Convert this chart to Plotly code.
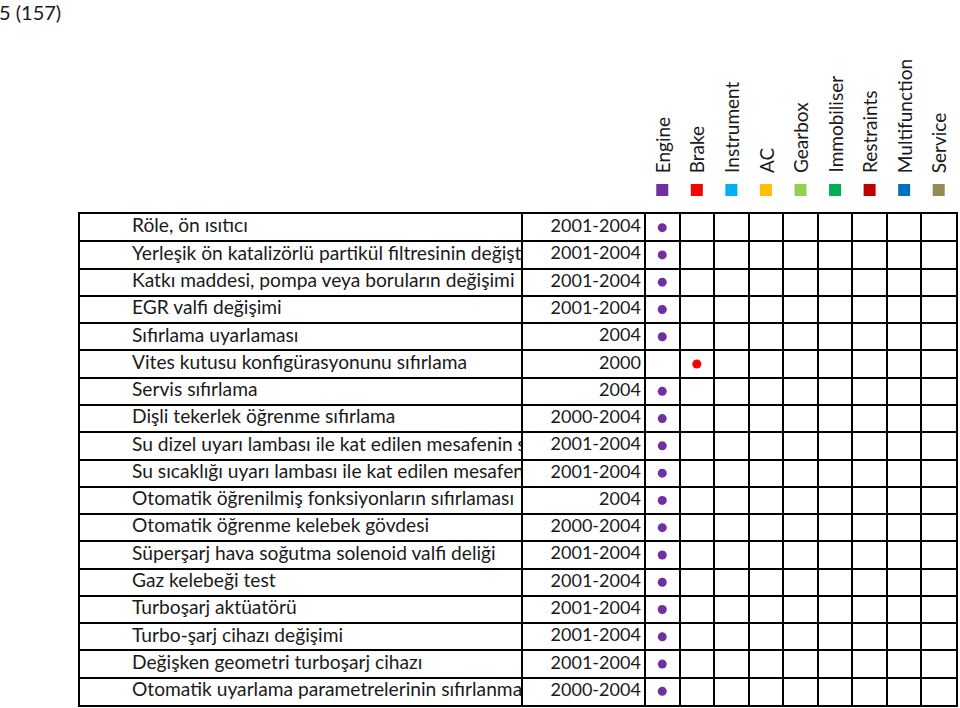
import plotly.graph_objects as go

# ---- data ----
categories = ["Engine", "Brake", "Instrument", "AC", "Gearbox",
              "Immobiliser", "Restraints", "Multifunction", "Service"]
cat_colors = ["#7030A0", "#FF0000", "#00B0F0", "#FFC000", "#92D050",
              "#00B050", "#C00000", "#0070C0", "#948A54"]

functions = [
    "Röle, ön ısıtıcı",
    "Yerleşik ön katalizörlü partikül filtresinin değiştirilmesi",
    "Katkı maddesi, pompa veya boruların değişimi",
    "EGR valfi değişimi",
    "Sıfırlama uyarlaması",
    "Vites kutusu konfigürasyonunu sıfırlama",
    "Servis sıfırlama",
    "Dişli tekerlek öğrenme sıfırlama",
    "Su dizel uyarı lambası ile kat edilen mesafenin sıfırlanması",
    "Su sıcaklığı uyarı lambası ile kat edilen mesafenin sıfırlanması",
    "Otomatik öğrenilmiş fonksiyonların sıfırlaması",
    "Otomatik öğrenme kelebek gövdesi",
    "Süperşarj hava soğutma solenoid valfi deliği",
    "Gaz kelebeği test",
    "Turboşarj aktüatörü",
    "Turbo-şarj cihazı değişimi",
    "Değişken geometri turboşarj cihazı",
    "Otomatik uyarlama parametrelerinin sıfırlanması",
]
years = ["2001-2004", "2001-2004", "2001-2004", "2001-2004", "2004", "2000",
         "2004", "2000-2004", "2001-2004", "2001-2004", "2004", "2000-2004",
         "2001-2004", "2001-2004", "2001-2004", "2001-2004", "2001-2004",
         "2000-2004"]
row_category = ["Engine", "Engine", "Engine", "Engine", "Engine", "Brake",
                "Engine", "Engine", "Engine", "Engine", "Engine", "Engine",
                "Engine", "Engine", "Engine", "Engine", "Engine", "Engine"]

page_title = "5 (157)"

# ---- layout helpers (pixels) ----
W, H = 960, 708
tbl_left, name_right, tbl_right = 80, 523, 956
tbl_top, tbl_bottom = 214, 705
year_w = 3.53  # year column width, in category-column units

FONT = "Lato, 'Open Sans', sans-serif"
TXT = "#1a1a1a"
n = len(functions)
rows = [i + 0.5 for i in range(n)]
ncat = len(categories)

fig = go.Figure()

# names (clipped at the column border like the spreadsheet)
fig.add_trace(go.Scatter(
    x=[52] * n, y=rows, text=functions, mode="text",
    textposition="middle right", cliponaxis=True,
    textfont=dict(family=FONT, size=19.2, color=TXT),
    xaxis="x", yaxis="y", hoverinfo="skip", showlegend=False))

# years
fig.add_trace(go.Scatter(
    x=[-0.12] * n, y=rows, text=years, mode="text",
    textposition="middle left", cliponaxis=True,
    textfont=dict(family=FONT, size=18, color=TXT),
    xaxis="x2", yaxis="y2", hoverinfo="skip", showlegend=False))

# dots
fig.add_trace(go.Scatter(
    x=[categories.index(c) + 0.5 for c in row_category], y=rows,
    mode="markers",
    marker=dict(size=9, color=[cat_colors[categories.index(c)] for c in row_category]),
    xaxis="x2", yaxis="y2", hoverinfo="skip", showlegend=False))

# header squares (header subplot, y in pixels from top)
fig.add_trace(go.Scatter(
    x=[i + 0.5 for i in range(ncat)], y=[190] * ncat,
    mode="markers",
    marker=dict(size=12, symbol="square", color=cat_colors),
    xaxis="x3", yaxis="y3", hoverinfo="skip", showlegend=False))

# header labels
for i, c in enumerate(categories):
    fig.add_annotation(x=i + 0.5, y=175, xref="x3", yref="y3", text=c,
                       textangle=-90, showarrow=False, yanchor="bottom",
                       xanchor="center",
                       font=dict(family=FONT, size=19, color=TXT))

fig.add_annotation(x=0, y=1 - 12 / H, xref="paper", yref="paper",
                   text=page_title, showarrow=False, xanchor="left", xshift=-3,
                   yanchor="middle", font=dict(family=FONT, size=20, color=TXT))

ydom = [(H - tbl_bottom) / H, (H - tbl_top) / H]
ybase = dict(range=[n, 0], domain=ydom, tickvals=list(range(n + 1)),
             showticklabels=False, ticks="", showgrid=True, gridcolor="black",
             gridwidth=2, zeroline=False, showline=True, linecolor="black",
             linewidth=2, fixedrange=True)

fig.update_layout(
    width=W, height=H, margin=dict(l=0, r=0, t=0, b=0),
    paper_bgcolor="white", plot_bgcolor="white",
    xaxis=dict(range=[0, name_right - tbl_left], domain=[tbl_left / W, name_right / W],
               showticklabels=False, ticks="", showgrid=False, zeroline=False,
               showline=True, linecolor="black", linewidth=2, mirror=True,
               anchor="y", fixedrange=True),
    xaxis2=dict(range=[-year_w, ncat], domain=[name_right / W, tbl_right / W],
                tickvals=list(range(ncat)), showticklabels=False,
                ticks="", showgrid=True, gridcolor="black", gridwidth=2,
                zeroline=False, showline=True, linecolor="black", linewidth=2,
                mirror=True, anchor="y2", fixedrange=True),
    xaxis3=dict(range=[-year_w, ncat], domain=[name_right / W, tbl_right / W],
                visible=False, anchor="y3", fixedrange=True),
    yaxis=dict(**ybase, mirror=False, anchor="x"),
    yaxis2=dict(**ybase, mirror=True, anchor="x2"),
    yaxis3=dict(range=[tbl_top, 0], domain=[(H - tbl_top) / H, 1],
                visible=False, anchor="x3", fixedrange=True),
)

fig.write_html("out.html", config={"displayModeBar": False},
               post_script="document.body.style.margin='0';")
